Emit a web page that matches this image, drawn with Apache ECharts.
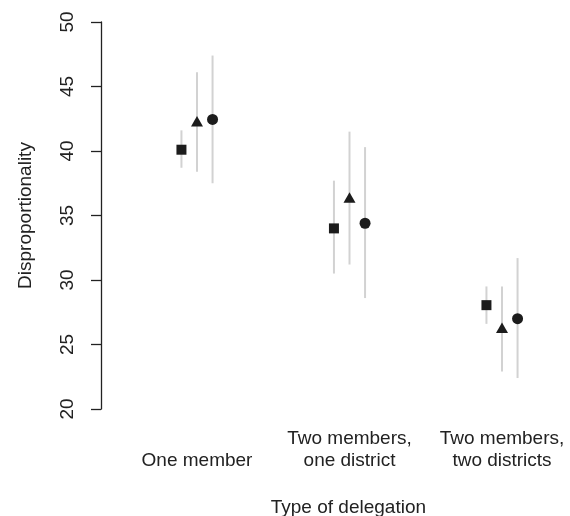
<!DOCTYPE html>
<html>
<head>
<meta charset="utf-8">
<script src="https://cdn.jsdelivr.net/npm/echarts@6/dist/echarts.min.js"></script>
<style>html,body{margin:0;padding:0;background:#fff}#c{width:570px;height:516px}</style>
</head>
<body>
<div id="c"></div>
<script>
var categories = ['One member', 'Two members,\none district', 'Two members,\ntwo districts'];
var squareMean = [40.1, 34.0, 28.05];
var squareLo   = [38.7, 30.5, 26.6];
var squareHi   = [41.6, 37.7, 29.5];
var triMean    = [42.3, 36.4, 26.3];
var triLo      = [38.4, 31.2, 22.9];
var triHi      = [46.1, 41.5, 29.5];
var circMean   = [42.45, 34.4, 27.0];
var circLo     = [37.5, 28.6, 22.4];
var circHi     = [47.4, 40.3, 31.7];
var yTicks = [20, 25, 30, 35, 40, 45, 50];

var OFF = 0.102;
var BAR = '#d2d2d2', INK = '#1c1c1c', FONT = 'Liberation Sans, Arial, Helvetica, sans-serif';
var FS = 19;

function pts(mean, off) { return mean.map(function (v, i) { return [i + 1 + off, v]; }); }
function bars(lo, hi, off) { return lo.map(function (v, i) { return [i + 1 + off, v, hi[i]]; }); }

function errSeries(lo, hi, off) {
  return {
    type: 'custom',
    z: 1,
    silent: true,
    data: bars(lo, hi, off),
    encode: { x: 0, y: [1, 2] },
    renderItem: function (params, api) {
      var a = api.coord([api.value(0), api.value(1)]);
      var b = api.coord([api.value(0), api.value(2)]);
      return { type: 'line', shape: { x1: a[0], y1: a[1], x2: b[0], y2: b[1] },
               style: { stroke: BAR, lineWidth: 2 } };
    }
  };
}
function ptSeries(mean, off, symbol, size) {
  return { type: 'scatter', z: 3, data: pts(mean, off), symbol: symbol, symbolSize: size,
           itemStyle: { color: INK, opacity: 1 }, silent: true };
}

var chart = echarts.init(document.getElementById('c'), null, { renderer: 'canvas' });
chart.setOption({
  animation: false,
  backgroundColor: '#fff',
  grid: { left: 120.75, right: 7, top: 22, bottom: 107, containLabel: false, outerBoundsMode: 'none' },
  xAxis: {
    type: 'value', min: 0.5, max: 3.4,
    splitLine: { show: false },
    axisLine: { show: false }, axisTick: { show: false },
    axisLabel: {
      customValues: [1, 2, 3],
      formatter: function (v) { return categories[Math.round(v) - 1] || ''; },
      fontSize: FS, fontFamily: FONT, color: '#222',
      verticalAlign: 'bottom', lineHeight: 22, margin: 63
    },
    name: 'Type of delegation', nameLocation: 'middle', nameGap: 89,
    nameTextStyle: { fontSize: FS, fontFamily: FONT, color: '#222', padding: [0, 0, 0, 13] }
  },
  yAxis: {
    type: 'value', min: 20, max: 50, interval: 5,
    offset: 19.75,
    splitLine: { show: false },
    axisLine: { show: true, lineStyle: { color: '#222', width: 1.3 } },
    axisTick: { show: true, length: 10, lineStyle: { color: '#222', width: 1.3 } },
    axisLabel: { rotate: 90, fontSize: FS, fontFamily: FONT, color: '#222', margin: 24,
                 formatter: function (v) { return yTicks.indexOf(v) >= 0 ? String(v) : ''; } },
    name: 'Disproportionality', nameLocation: 'middle', nameGap: 66,
    nameTextStyle: { fontSize: FS, fontFamily: FONT, color: '#222' }
  },
  series: [
    errSeries(squareLo, squareHi, -OFF),
    errSeries(triLo, triHi, 0),
    errSeries(circLo, circHi, OFF),
    ptSeries(squareMean, -OFF, 'rect', 10),
    ptSeries(triMean, 0, 'triangle', [12, 10.5]),
    ptSeries(circMean, OFF, 'circle', 11)
  ]
});
</script>
</body>
</html>
